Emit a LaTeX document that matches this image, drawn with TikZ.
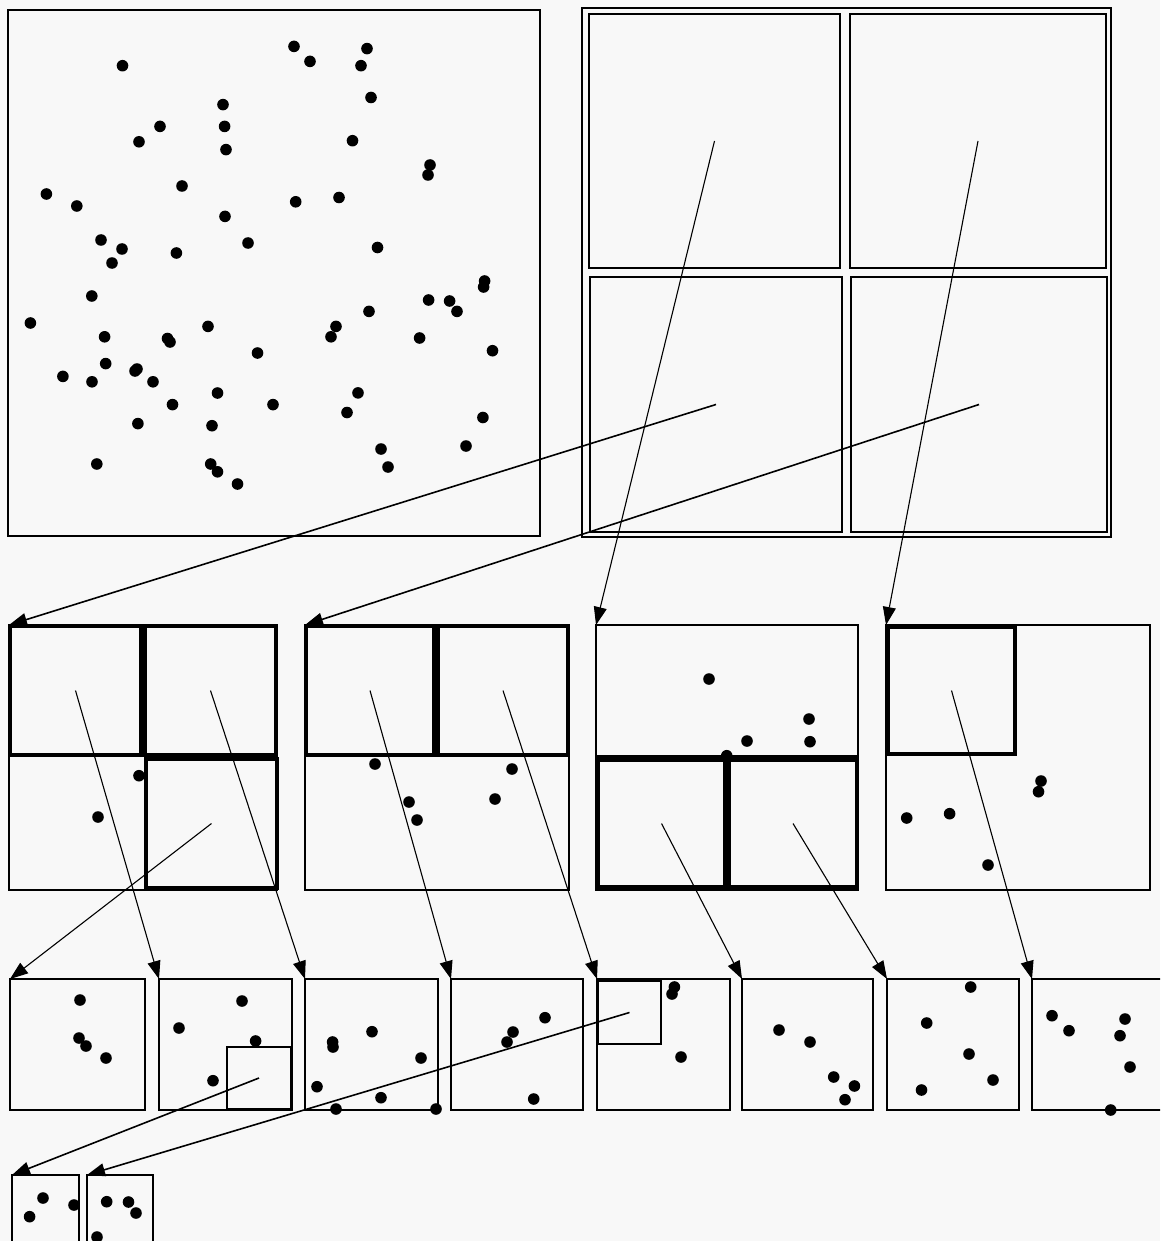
\documentclass[tikz,border=0pt]{standalone}
\usetikzlibrary{arrows.meta,fit}
\definecolor{paper}{RGB}{248,248,248}
\tikzset{
  box/.style={draw=black, line width=2.9pt, inner sep=0pt, outer sep=0pt, fit={#1}},
  heavy/.style={line width=3.8pt},
  light/.style={line width=2.4pt},
  conn/.style={draw=black, line width=1.1pt, -{Triangle[length=18pt,width=13pt]}},
  connb/.style={draw=black, line width=1.6pt, -{Triangle[length=18pt,width=13pt]}},
  dotst/.style={fill=black}
}
\begin{document}
\begin{tikzpicture}[x=1pt,y=-1pt]
\fill[paper] (0,0) rectangle (1160,1241);
\useasboundingbox (0,0) rectangle (1160,1241);
\clip (0,0) rectangle (1160,1241);

% ---------- top row ----------
\node[box={(8,10) (540,536)}] (big) {};
\node[box={(582,8) (1111,537)}, light] (frame) {};
\node[box={(589,14) (840,268)}] (qTL) {};
\node[box={(850,14) (1106,268)}] (qTR) {};
\node[box={(590,277) (842,532)}] (qBL) {};
\node[box={(851,277) (1107,532)}] (qBR) {};

% ---------- middle row ----------
\node[box={(9,625) (277,890)}] (m1) {};
\node[box={(10,626) (141,755)}, heavy] (m1a) {};
\node[box={(145,626) (276,755)}, heavy] (m1b) {};
\node[box={(146,759) (277,888)}, heavy] (m1d) {};

\node[box={(305,625) (569,890)}] (m2) {};
\node[box={(306,626) (434,755)}, heavy] (m2a) {};
\node[box={(438,626) (568,755)}, heavy] (m2b) {};
\draw[line width=3.2pt] (m2a.south west) -- (m2b.south east);

\node[box={(596,625) (858,890)}] (m3) {};
\draw[line width=3.2pt] (m3.west |- 0,757) -- (m3.east |- 0,757);
\node[box={(598,760) (725,887)}, heavy] (m3c) {};
\node[box={(729,760) (857,887)}, heavy] (m3d) {};

\node[box={(886,625) (1150,890)}, light] (m4) {};
\node[box={(888,627) (1015,754)}, heavy] (m4a) {};

% ---------- bottom row ----------
\node[box={(10,979) (145,1110)}] (b1) {};
\node[box={(159,979) (292,1110)}] (b2) {};
\node[box={(227,1047) (291,1109)}] (b2s) {};
\node[box={(305,979) (438,1110)}] (b3) {};
\node[box={(451,979) (583,1110)}] (b4) {};
\node[box={(597,979) (730,1110)}] (b5) {};
\node[box={(598,981) (661,1044)}] (b5s) {};
\node[box={(742,979) (873,1110)}] (b6) {};
\node[box={(887,979) (1019,1110)}] (b7) {};
\node[box={(1032,979) (1180,1110)}] (b8) {};

% ---------- last row ----------
\node[box={(12,1175) (79,1252)}] (b9) {};
\node[box={(87,1175) (153,1252)}] (b10) {};

% ---------- connectors ----------
\draw[conn] (qTL.center) -- (m3.north west);
\draw[conn] (qTR.center) -- (m4.north west);
\draw[connb] (qBL.center) -- (m1.north west);
\draw[connb] (qBR.center) -- (m2.north west);

\draw[conn] (m1a.center) -- (b2.north west);
\draw[conn] (m1b.center) -- (b3.north west);
\draw[conn] (m1d.center) -- (b1.north west);
\draw[conn] (m2a.center) -- (b4.north west);
\draw[conn] (m2b.center) -- (b5.north west);
\draw[conn] (m3c.center) -- (b6.north west);
\draw[conn] (m3d.center) -- (b7.north west);
\draw[conn] (m4a.center) -- (b8.north west);

\draw[connb] (b2s.center) -- (b9.north west);
\draw[connb] (b5s.center) -- (b10.north west);

% ---------- points ----------
\foreach \a/\b in {122.5/65.7,294/46.4,310/61.4,367/48.6,361/65.7,371/97.5,223/104.6,224.6/126.4,
  226/149.6,160/126.4,139/141.8,352.5/140.7,430/165,428/175,46.4/194,76.8/206,182/186,295.7/201.8,
  339/197.5,225/216.4,248/243,377.5/247.5,101/240,122/249,112/263,176.4/253,91.8/296,484.6/281,
  483.6/287,428.6/300,449.6/301,457/311.4,369/311.4,30.4/323,208/326.4,336/326.4,331/336.8,
  419.6/338,104.6/336.8,167.5/338.5,170/342,257.5/353,492.5/350.7,105.7/363.6,137/369,135/371,
  62.9/376.4,92/381.8,153/381.8,217.5/393,358/392.9,172.5/404.6,273/404.6,347/412.5,137.9/423.6,
  212/425.7,482.9/417.5,466/446,381/449,388/467,96.8/464,210.7/464,217.5/471.8,237.5/484}
  \fill[dotst] (\a,\b) circle[radius=5.8pt];

\foreach \a/\b in {139/775.7,98/817,375/764,409/802,417/820,512/769,495/799,
  709/679,809/719,810/741.7,747/741,726.7/755.7,
  906.7/818,949.6/813.7,1041/781,1038.5/791.7,988/865}
  \fill[dotst] (\a,\b) circle[radius=5.8pt];

\foreach \a/\b in {80/1000,79/1038,86/1046,106/1058,
  242/1001,179/1028,255.6/1041,213/1080.7,
  332.6/1042,333/1047,372/1031.7,421/1058,317/1086.7,381/1097.7,336/1109,436/1109,
  545/1017.7,513/1032,507/1042,533.7/1099,
  674.4/987,672/994,681/1057,
  779/1030,810/1042,833.7/1077,854.4/1086,845/1099.7,
  970.7/987,926.7/1023,969/1054,993/1080,921.5/1090,
  1052/1015.7,1069/1030.7,1125/1019,1120/1035.7,1130/1067,1110.7/1110,
  43/1198,74/1205,29.6/1216.7,
  106.7/1201.7,128.5/1202,136/1213,97/1237}
  \fill[dotst] (\a,\b) circle[radius=5.8pt];
\end{tikzpicture}
\end{document}
